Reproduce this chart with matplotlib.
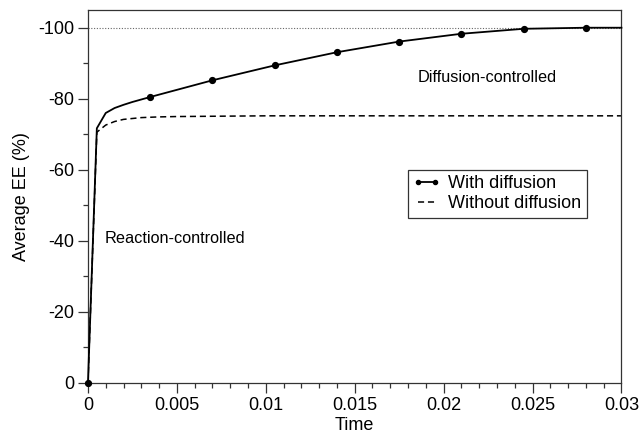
import numpy as np
import matplotlib
matplotlib.use('Agg')
import matplotlib.pyplot as plt
from matplotlib.ticker import MultipleLocator, FormatStrFormatter

plt.rcParams['font.family'] = ['Liberation Sans', 'DejaVu Sans']

# Average EE vs time, with and without diffusion
t_diff = [0.0, 0.0005, 0.001, 0.0015, 0.002, 0.0025, 0.003, 0.0035,
          0.007, 0.0105, 0.014, 0.0175, 0.021, 0.0245, 0.028, 0.03]
ee_diff = [0.0, -71.7, -76.0, -77.4, -78.3, -79.1, -79.8, -80.5,
           -85.2, -89.4, -93.1, -96.1, -98.3, -99.7, -100.0, -100.0]
marker_idx = [0, 7, 8, 9, 10, 11, 12, 13, 14]

t_nodiff = [0.0, 0.0005, 0.001, 0.0015, 0.002, 0.003, 0.004, 0.005, 0.01, 0.02, 0.03]
ee_nodiff = [0.0, -70.6, -72.6, -73.6, -74.2, -74.7, -74.9, -75.0, -75.2, -75.2, -75.2]

fig = plt.figure(figsize=(6.42, 4.33), dpi=100)
ax = fig.add_axes([0.137, 0.1155, 0.831, 0.8615])

ax.axhline(-100, color='#666666', lw=0.8, ls=(0, (1, 1.5)), zorder=1)
ax.plot(t_diff, ee_diff, color='black', lw=1.3, marker='o', ms=4.2,
        markevery=marker_idx, label='With diffusion', zorder=3, clip_on=False)
ax.plot(t_nodiff, ee_nodiff, color='black', lw=1.1, ls=(0, (4, 2.5)),
        label='Without diffusion', zorder=2)

ax.set_xlim(0, 0.03)
ax.set_ylim(0, -105)
ax.xaxis.set_major_locator(MultipleLocator(0.005))
ax.xaxis.set_minor_locator(MultipleLocator(0.001))
ax.yaxis.set_major_locator(MultipleLocator(20))
ax.yaxis.set_minor_locator(MultipleLocator(10))
ax.set_xticks([0, 0.005, 0.01, 0.015, 0.02, 0.025, 0.03])
ax.set_xticklabels(['0', '0.005', '0.01', '0.015', '0.02', '0.025', '0.03'])
ax.yaxis.set_major_formatter(FormatStrFormatter('%d'))

ax.tick_params(which='major', length=7, width=0.9, labelsize=13, color='#333333', pad=3)
ax.tick_params(which='minor', length=3.6, width=0.9, color='#333333')
for s in ax.spines.values():
    s.set_linewidth(0.9)
    s.set_color('#333333')

ax.set_xlabel('Time', fontsize=13, labelpad=2)
ax.set_ylabel('Average EE (%)', fontsize=13, labelpad=6)

ax.text(0.00095, -40.8, 'Reaction-controlled', fontsize=11.7, va='center', ha='left')
ax.text(0.01855, -85.9, 'Diffusion-controlled', fontsize=11.7, va='center', ha='left')

leg = ax.legend(loc='upper left', bbox_to_anchor=(0.599, 0.571), fontsize=13,
                numpoints=2, markerscale=0.7, handlelength=1.5, handletextpad=0.45,
                borderpad=0.3, labelspacing=0.15, fancybox=False,
                framealpha=1, borderaxespad=0)
leg.get_frame().set_edgecolor('#333333')
leg.get_frame().set_linewidth(0.9)

fig.savefig('out.png', dpi=100)
